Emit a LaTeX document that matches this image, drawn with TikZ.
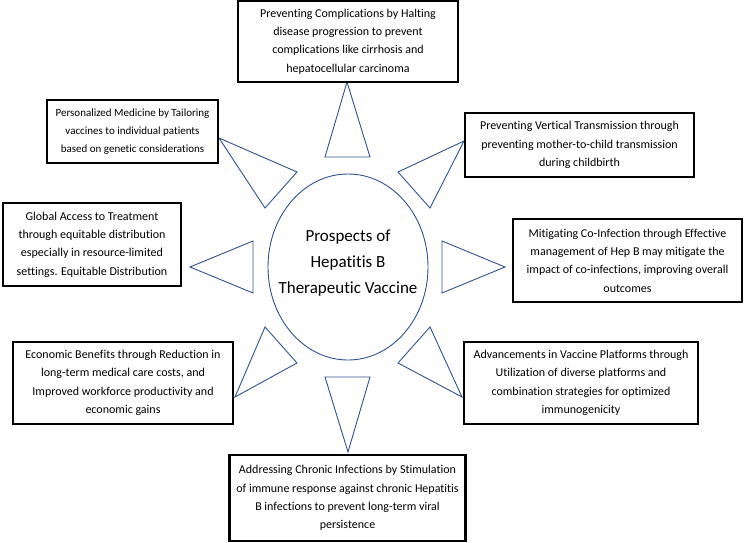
\documentclass[tikz,border=0pt]{standalone}
\usepackage{fontspec}
\setmainfont{Carlito}[Ligatures=NoCommon]
\usetikzlibrary{shapes.geometric}
\definecolor{spikeblue}{HTML}{2F528F}
\tikzset{
  infobox/.style={draw=black, line width=2.7pt, fill=white, align=center, inner sep=0pt,
    font=\fontsize{12}{18.3}\selectfont},
  spike/.style={draw=spikeblue, line width=0.9pt, line join=miter},
  hub/.style={draw=spikeblue, line width=0.9pt, ellipse, inner sep=0pt,
    minimum width=160pt, minimum height=186pt},
  hubtext/.style={align=center, inner sep=0pt, font=\fontsize{17}{26}\selectfont},
}

\begin{document}
\begin{tikzpicture}[x=1pt, y=-1pt]
			%%%%% START %%%%%
			\useasboundingbox (0,0) rectangle (745,543);

			\node[hub] (hub) at (348,267) {};
			\node[hubtext] (title) at (348,263) {Prospects of\\Hepatitis B\\Therapeutic Vaccine};

			% spikes round the hub
			\draw[spike] (325,157) -- (347,82) -- (370,157) -- cycle;
			\draw[spike] (325,377) -- (348,452) -- (370,377) -- cycle;
			\draw[spike] (253,241) -- (190,267) -- (253,293) -- cycle;
			\draw[spike] (442,241) -- (505,267) -- (442,293) -- cycle;
			\draw[spike] (219,138) -- (297,172) -- (265,208) -- cycle;
			\draw[spike] (464,141) -- (398,172) -- (430,208) -- cycle;
			\draw[spike] (235,397) -- (297,363) -- (265,327) -- cycle;
			\draw[spike] (462,397) -- (398,363) -- (430,327) -- cycle;

			% boxes
			\node[infobox, minimum width=220pt, minimum height=81pt] (complic) at (348,41.5)
				{Preventing Complications by Halting\\disease progression to prevent\\complications like cirrhosis and\\hepatocellular carcinoma};
			\node[infobox, minimum width=171pt, minimum height=63pt, font=\fontsize{11}{18}\selectfont] (personal) at (132.5,131.5)
				{Personalized  Medicine by Tailoring\\vaccines to individual patients\\based on genetic considerations};
			\node[infobox, minimum width=229pt, minimum height=64pt] (vertical) at (579.5,145)
				{Preventing Vertical Transmission through\\preventing mother-to-child transmission\\during childbirth};
			\node[infobox, minimum width=178pt, minimum height=83pt] (globalacc) at (92,244.5)
				{Global Access to Treatment\\through equitable distribution\\especially in resource-limited\\settings. Equitable Distribution};
			\node[infobox, minimum width=229pt, minimum height=83pt] (coinfect) at (627.5,260.5)
				{Mitigating Co-Infection through Effective\\management of Hep B may mitigate the\\impact of co-infections, improving overall\\outcomes};
			\node[infobox, minimum width=220pt, minimum height=82pt] (economic) at (123,383)
				{Economic Benefits through Reduction in\\long-term medical care costs, and\\Improved workforce productivity and\\economic gains};
			\node[infobox, minimum width=234pt, minimum height=82pt] (platform) at (581,383)
				{Advancements in Vaccine Platforms through\\Utilization of diverse platforms and\\combination strategies for optimized\\immunogenicity};
			\node[infobox, minimum width=236pt, minimum height=86pt] (chronic) at (347.5,498)
				{Addressing Chronic Infections by Stimulation\\of immune response against chronic Hepatitis\\B infections to prevent long-term viral\\persistence};

			%%%%% END %%%%%
\end{tikzpicture}
\end{document}
